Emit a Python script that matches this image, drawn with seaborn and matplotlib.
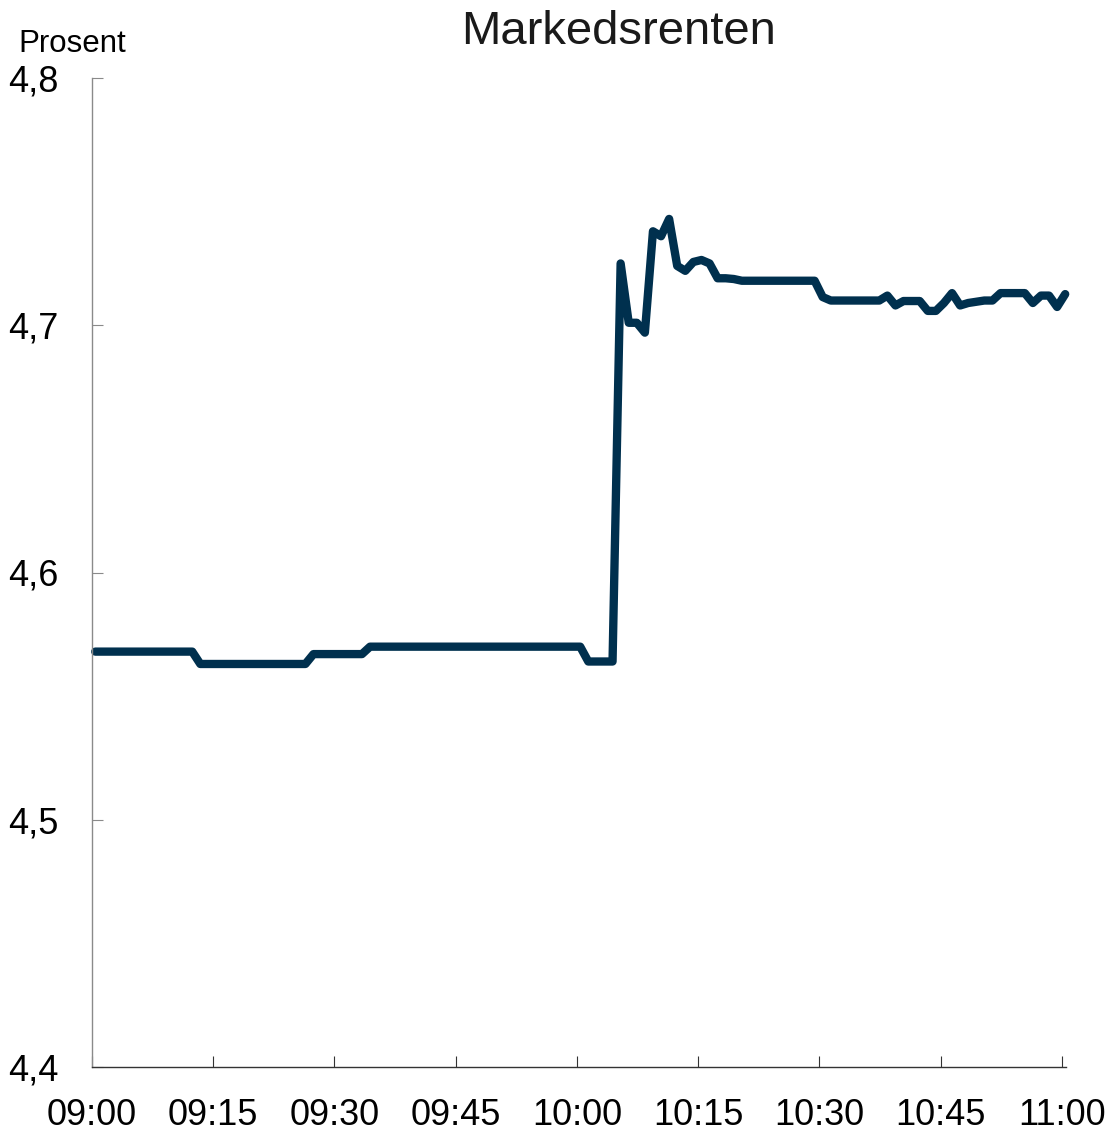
import numpy as np
import pandas as pd
import matplotlib
matplotlib.use("Agg")
import matplotlib.pyplot as plt
import seaborn as sns

# ---- data ----
title = "Markedsrenten"
y_label = "Prosent"
# minutes after 09:00 (observations every minute, stamped ~20 s past)
minutes = [m + 0.4 for m in range(121)]
rate = [
    # 09:00 - 09:12
    4.568, 4.568, 4.568, 4.568, 4.568, 4.568, 4.568, 4.568, 4.568, 4.568,
    4.568, 4.568, 4.568,
    # 09:13 - 09:26
    4.563, 4.563, 4.563, 4.563, 4.563, 4.563, 4.563, 4.563, 4.563, 4.563,
    4.563, 4.563, 4.563, 4.563,
    # 09:27 - 09:33
    4.567, 4.567, 4.567, 4.567, 4.567, 4.567, 4.567,
    # 09:34 - 10:00
    4.570, 4.570, 4.570, 4.570, 4.570, 4.570, 4.570, 4.570, 4.570, 4.570,
    4.570, 4.570, 4.570, 4.570, 4.570, 4.570, 4.570, 4.570, 4.570, 4.570,
    4.570, 4.570, 4.570, 4.570, 4.570, 4.570, 4.570,
    # 10:01 - 10:04
    4.564, 4.564, 4.564, 4.564,
    # 10:05 - 10:19
    4.725, 4.701, 4.701, 4.697, 4.738, 4.736, 4.743, 4.724, 4.722, 4.7256,
    4.7264, 4.725, 4.719, 4.719, 4.7187,
    # 10:20 - 10:29
    4.718, 4.718, 4.718, 4.718, 4.718, 4.718, 4.718, 4.718, 4.718, 4.718,
    # 10:30 - 10:39
    4.7114, 4.710, 4.710, 4.710, 4.710, 4.710, 4.710, 4.710, 4.712, 4.708,
    # 10:40 - 10:49
    4.7098, 4.7098, 4.7098, 4.7058, 4.7058, 4.709, 4.713, 4.708, 4.709, 4.7095,
    # 10:50 - 11:00
    4.710, 4.710, 4.713, 4.713, 4.713, 4.713, 4.709, 4.712, 4.712, 4.7074,
    4.7126,
]
x_ticks = [0, 15, 30, 45, 60, 75, 90, 105, 120]
x_tick_labels = ["09:00", "09:15", "09:30", "09:45", "10:00", "10:15", "10:30", "10:45", "11:00"]
y_ticks = [4.4, 4.5, 4.6, 4.7, 4.8]
y_tick_labels = ["4,4", "4,5", "4,6", "4,7", "4,8"]

df = pd.DataFrame({"min": minutes, "rate": rate})

sns.set_theme(style="white")
plt.rcParams["font.family"] = ["Liberation Sans", "DejaVu Sans"]

fig = plt.figure(figsize=(11.19, 11.31), dpi=100)
ax = fig.add_axes([92 / 1119, 1 - 1067 / 1131, (1066 - 92) / 1119, (1067 - 78) / 1131])

sns.lineplot(data=df, x="min", y="rate", ax=ax, color="#00304e", linewidth=6,
             solid_capstyle="round", solid_joinstyle="round", clip_on=False)

ax.set_xlim(0, 120.5)
ax.set_ylim(4.4, 4.8)
ax.set_xticks(x_ticks)
ax.set_xticklabels(x_tick_labels)
ax.set_yticks(y_ticks)
ax.set_yticklabels(y_tick_labels)
ax.set_xlabel("")
ax.set_ylabel("")

for s in ["top", "right"]:
    ax.spines[s].set_visible(False)
ax.spines["left"].set_color("#8a8a8a")
ax.spines["left"].set_linewidth(1.0)
ax.spines["bottom"].set_color("#333333")
ax.spines["bottom"].set_linewidth(1.0)

ax.tick_params(axis="x", direction="in", length=8, width=0.8, color="#333333",
               labelsize=26, pad=22, labelcolor="black", bottom=True)
ax.tick_params(axis="y", direction="in", length=8, width=0.8, color="#8a8a8a",
               labelsize=26, pad=24, labelcolor="black", left=True)

fig.text(619 / 1119, 1 - 32 / 1131, title, ha="center", va="center", fontsize=34, color="#1a1a1a")
fig.text(18 / 1119, 1 - 44 / 1131, y_label, ha="left", va="center", fontsize=22.5, color="black")

fig.savefig("out.png", dpi=100, facecolor="white")
